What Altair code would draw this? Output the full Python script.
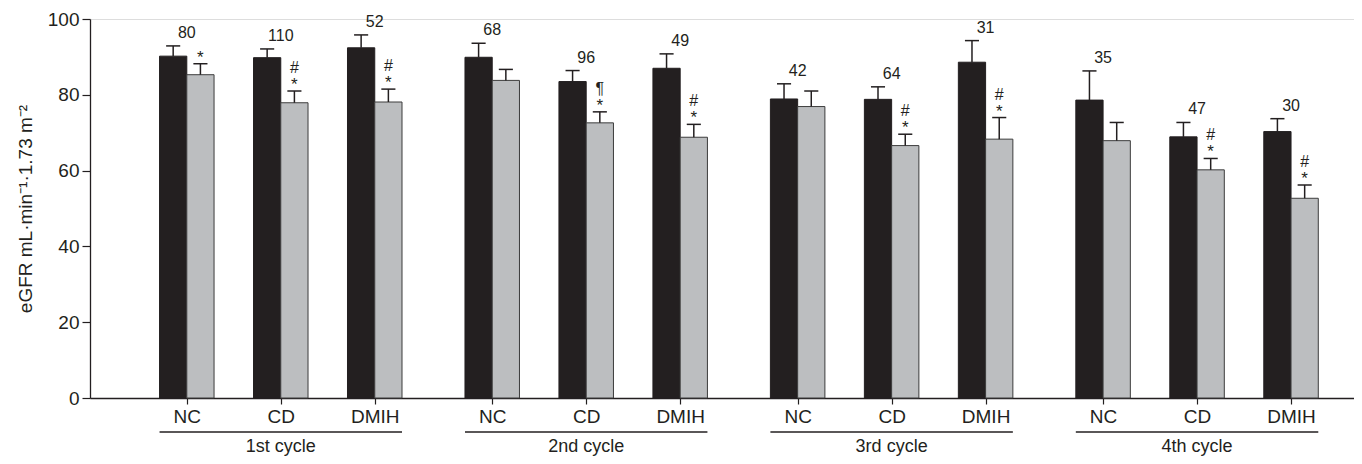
import altair as alt
import pandas as pd

cycles = ["1st cycle", "2nd cycle", "3rd cycle", "4th cycle"]
groups = ["NC", "CD", "DMIH"]
n_labels = [80, 110, 52, 68, 96, 49, 42, 64, 31, 35, 47, 30]
black_mean = [90.2, 89.8, 92.4, 89.9, 83.5, 87.0, 78.9, 78.8, 88.6, 78.6, 68.9, 70.3]
black_err = [2.7, 2.3, 3.4, 3.7, 2.9, 3.8, 4.0, 3.3, 5.7, 7.7, 3.8, 3.4]
gray_mean = [85.3, 77.9, 78.1, 83.8, 72.6, 68.8, 76.9, 66.6, 68.3, 67.9, 60.2, 52.7]
gray_err = [2.9, 3.1, 3.4, 2.9, 2.9, 3.4, 4.1, 3.0, 5.7, 4.8, 3.0, 3.5]
mark_top = ["", "#", "#", "", "\u00b6", "#", "", "#", "#", "", "#", "#"]
mark_star = ["*", "*", "*", "", "*", "*", "", "*", "*", "", "*", "*"]

# layout constants
CYCLE_STEP = 3.25
BAR_W = 0.29
CAP = 0.075

bar_rows, grp_rows, cyc_rows = [], [], []
for ci, c in enumerate(cycles):
    ps = []
    for gi, g in enumerate(groups):
        k = ci * 3 + gi
        pos = 1 + ci * CYCLE_STEP + gi
        ps.append(pos)
        for s, m, e, l, r in (("black", black_mean[k], black_err[k], pos - BAR_W, pos),
                              ("gray", gray_mean[k], gray_err[k], pos, pos + BAR_W)):
            ctr = (l + r) / 2
            bar_rows.append(dict(series=s, left=l, right=r, center=ctr, mean=m,
                                 upper=m + e, capl=ctr - CAP, capr=ctr + CAP))
        grp_rows.append(dict(pos=pos, n=str(n_labels[k]),
                             top=max(black_mean[k] + black_err[k], gray_mean[k] + gray_err[k]),
                             gx=pos + BAR_W / 2, gup=gray_mean[k] + gray_err[k],
                             mtop=mark_top[k], mstar=mark_star[k]))
    cyc_rows.append(dict(cycle=c, start=ps[0] - BAR_W, end=ps[-1] + BAR_W, mid=ps[1]))

bars = pd.DataFrame(bar_rows)
grp = pd.DataFrame(grp_rows)
cyc = pd.DataFrame(cyc_rows)
positions = list(grp["pos"])

W, H = 1264, 379
FONT = "Liberation Sans"
INK = "#231f20"

xs = alt.Scale(domain=[-0.03, 13.42], nice=False, zero=False)
ys = alt.Scale(domain=[0, 100], nice=False)

xaxis = alt.Axis(values=positions,
                 labelExpr="['NC','CD','DMIH'][round((datum.value - 1) % 3.25)]",
                 grid=False, tickSize=6, tickColor=INK, domainColor=INK,
                 domainWidth=1.3, tickWidth=1.2, labelFontSize=19,
                 labelColor=INK, labelPadding=3, labelFont=FONT, title=None)
yaxis = alt.Axis(values=[0, 20, 40, 60, 80, 100], grid=False, tickSize=8,
                 tickColor=INK, domainColor=INK, domainWidth=1.3, tickWidth=1.2,
                 labelFontSize=19, labelColor=INK, labelPadding=3, labelFont=FONT,
                 title="eGFR mL\u00b7min\u207b\u00b9\u00b71.73 m\u207b\u00b2",
                 titleFontSize=19, titleFontWeight="normal", titleColor=INK,
                 titleFont=FONT, titlePadding=12)


def X(f):
    return alt.X(f, scale=xs, axis=xaxis, title=None)


def Y(f):
    return alt.Y(f, scale=ys, axis=yaxis)


bar_layer = alt.Chart(bars).mark_bar(strokeWidth=1).encode(
    x=X("left:Q"),
    x2="right:Q",
    y=Y("mean:Q"),
    y2=alt.datum(0),
    color=alt.Color("series:N", scale=alt.Scale(domain=["black", "gray"],
                                                range=[INK, "#bcbec0"]), legend=None),
    stroke=alt.Stroke("series:N", scale=alt.Scale(domain=["black", "gray"],
                                                  range=[INK, "#3c3c3c"]), legend=None),
)

whisker = alt.Chart(bars).mark_rule(color=INK, strokeWidth=1.5).encode(
    x=X("center:Q"), y=Y("mean:Q"), y2="upper:Q")
cap = alt.Chart(bars).mark_rule(color=INK, strokeWidth=1.5).encode(
    x=X("capl:Q"), x2="capr:Q", y=Y("upper:Q"))

nlab = alt.Chart(grp).mark_text(fontSize=16, font=FONT, color=INK, baseline="alphabetic",
                                dy=-8).encode(
    x=X("pos:Q"), y=Y("top:Q"), text="n:N")
star = alt.Chart(grp).mark_text(fontSize=17, font=FONT, color=INK, baseline="alphabetic",
                                dy=-1).encode(
    x=X("gx:Q"), y=Y("gup:Q"), text="mstar:N")
sym = alt.Chart(grp).mark_text(fontSize=16, font=FONT, color=INK, baseline="alphabetic",
                               dy=-18).encode(
    x=X("gx:Q"), y=Y("gup:Q"), text="mtop:N")

underline = alt.Chart(cyc).mark_rule(color=INK, strokeWidth=1.5).encode(
    x=X("start:Q"), x2="end:Q", y=alt.value(H + 34))
cyc_text = alt.Chart(cyc).mark_text(fontSize=18, font=FONT, color=INK,
                                    baseline="alphabetic").encode(
    x=X("mid:Q"), y=alt.value(H + 54), text="cycle:N")

chart = alt.layer(bar_layer, whisker, cap, nlab, star, sym, underline, cyc_text).properties(
    width=W, height=H,
    autosize=alt.AutoSizeParams(type="none"),
    padding={"left": 82, "top": 11, "right": 0, "bottom": 58},
).configure_view(stroke=None).configure(font=FONT)

chart.save("out.html", embed_options={"renderer": "svg", "actions": False})
